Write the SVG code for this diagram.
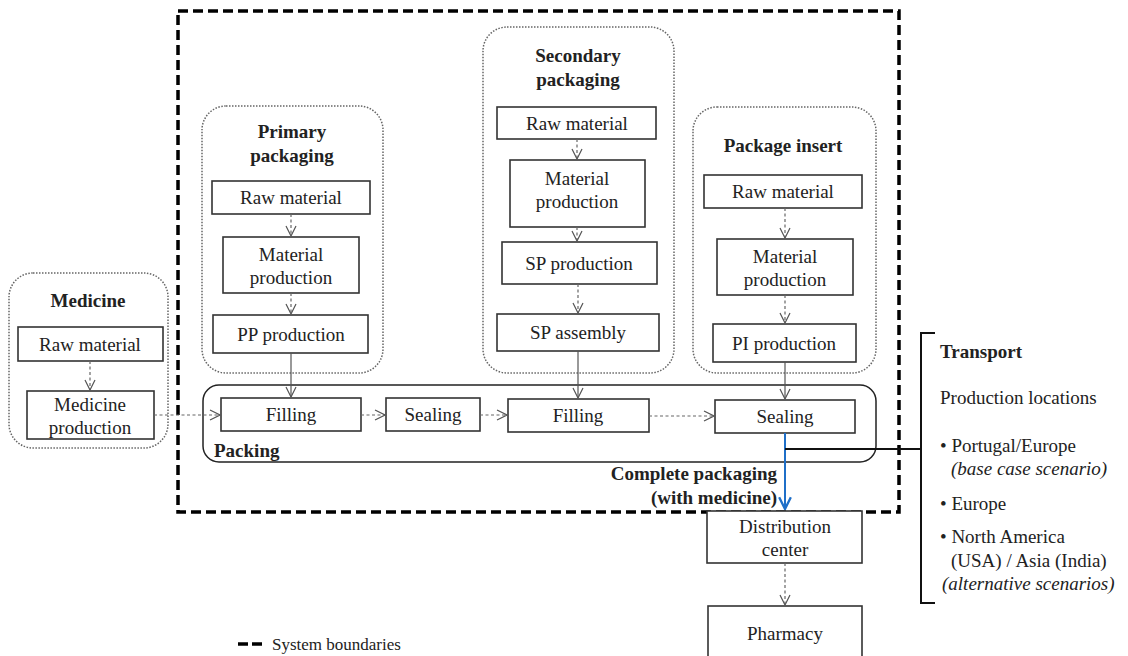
<svg xmlns="http://www.w3.org/2000/svg" width="1128" height="656" viewBox="0 0 1128 656" font-family="Liberation Serif, DejaVu Serif, serif">
<defs>
<style>
text{font-family:Liberation Serif, DejaVu Serif, serif;font-size:19px;fill:#222}
.b{font-weight:bold}
.i{font-style:italic}
.m{text-anchor:middle}
.box{fill:#fff;stroke:#333;stroke-width:1.6}
.grp{fill:none;stroke:#666;stroke-width:1.5;stroke-dasharray:1.5 1.5}
.sol{fill:none;stroke:#555;stroke-width:1.2}
.dsh{fill:none;stroke:#666;stroke-width:1.2;stroke-dasharray:3 2.5}
</style>
<marker id="ah" viewBox="0 0 12 12" refX="11" refY="6" markerWidth="12" markerHeight="12" markerUnits="userSpaceOnUse" orient="auto">
<path d="M1,1 L11,6 L1,11" fill="none" stroke="#555" stroke-width="1.2"/>
</marker>
<marker id="ahb" viewBox="0 0 12 12" refX="11" refY="6" markerWidth="14" markerHeight="14" markerUnits="userSpaceOnUse" orient="auto">
<path d="M1,1 L11,6 L1,11" fill="none" stroke="#1f6fc8" stroke-width="2"/>
</marker>
</defs>

<g id="system-boundary">
<rect x="178" y="11" width="721" height="501" fill="none" stroke="#000" stroke-width="3.5" stroke-dasharray="10 5"/>
</g>

<g id="medicine">
<rect class="grp" x="9" y="273" width="159" height="175" rx="24"/>
<text class="b m" x="88" y="307">Medicine</text>
</g>
<g id="med-raw"><rect class="box" x="18" y="327" width="145" height="34"/><text class="m" x="90" y="351">Raw material</text></g>
<g id="med-prod"><rect class="box" x="27" y="391" width="127" height="48"/><text class="m" x="90" y="411">Medicine</text><text class="m" x="90" y="434">production</text></g>

<g id="primary">
<rect class="grp" x="202" y="106" width="181" height="267" rx="24"/>
<text class="b m" x="292" y="138">Primary</text>
<text class="b m" x="292" y="162">packaging</text>
</g>
<g id="pp-raw"><rect class="box" x="212" y="181" width="158" height="33"/><text class="m" x="291" y="204">Raw material</text></g>
<g id="pp-mat"><rect class="box" x="223" y="237" width="136" height="56"/><text class="m" x="291" y="261">Material</text><text class="m" x="291" y="284">production</text></g>
<g id="pp-prod"><rect class="box" x="213" y="315" width="155" height="38"/><text class="m" x="291" y="341">PP production</text></g>

<g id="secondary">
<rect class="grp" x="483" y="27" width="191" height="346" rx="24"/>
<text class="b m" x="578" y="62">Secondary</text>
<text class="b m" x="578" y="86">packaging</text>
</g>
<g id="sp-raw"><rect class="box" x="497" y="107" width="159" height="32"/><text class="m" x="577" y="130">Raw material</text></g>
<g id="sp-mat"><rect class="box" x="510" y="160" width="135" height="67"/><text class="m" x="577" y="185">Material</text><text class="m" x="577" y="208">production</text></g>
<g id="sp-prod"><rect class="box" x="502" y="242" width="155" height="42"/><text class="m" x="579" y="270">SP production</text></g>
<g id="sp-asm"><rect class="box" x="497" y="314" width="162" height="37"/><text class="m" x="578" y="339">SP assembly</text></g>

<g id="insert">
<rect class="grp" x="693" y="107" width="183" height="266" rx="24"/>
<text class="b m" x="783" y="152">Package insert</text>
</g>
<g id="pi-raw"><rect class="box" x="704" y="175" width="158" height="33"/><text class="m" x="783" y="198">Raw material</text></g>
<g id="pi-mat"><rect class="box" x="717" y="239" width="136" height="56"/><text class="m" x="785" y="263">Material</text><text class="m" x="785" y="286">production</text></g>
<g id="pi-prod"><rect class="box" x="713" y="324" width="143" height="38"/><text class="m" x="784" y="350">PI production</text></g>

<g id="packing">
<rect x="203" y="385" width="673" height="77" rx="16" fill="none" stroke="#222" stroke-width="1.5"/>
<text class="b" x="214" y="457">Packing</text>
</g>
<g id="filling1"><rect class="box" x="221" y="398" width="140" height="33"/><text class="m" x="291" y="421">Filling</text></g>
<g id="sealing1"><rect class="box" x="386" y="398" width="94" height="33"/><text class="m" x="433" y="421">Sealing</text></g>
<g id="filling2"><rect class="box" x="508" y="399" width="141" height="33"/><text class="m" x="578" y="422">Filling</text></g>
<g id="sealing2"><rect class="box" x="715" y="400" width="140" height="33"/><text class="m" x="785" y="423">Sealing</text></g>

<g id="complete-label">
<text class="b" x="777" y="480" text-anchor="end">Complete packaging</text>
<text class="b" x="777" y="504" text-anchor="end">(with medicine)</text>
</g>

<g id="distribution"><rect class="box" x="707" y="511" width="155" height="52"/><text class="m" x="785" y="533">Distribution</text><text class="m" x="785" y="556">center</text></g>
<g id="pharmacy"><rect class="box" x="708" y="606" width="154" height="56"/><text class="m" x="785" y="640">Pharmacy</text></g>

<g id="transport">
<path d="M935,333 H921 V603 H935" fill="none" stroke="#111" stroke-width="2"/>
<text class="b" x="940" y="358">Transport</text>
<text x="940" y="404">Production locations</text>
<text x="940" y="452">• Portugal/Europe</text>
<text class="i" x="951" y="475">(base case scenario)</text>
<text x="940" y="510">• Europe</text>
<text x="940" y="543">• North America</text>
<text x="951" y="567">(USA) / Asia (India)</text>
<text class="i" x="942" y="590">(alternative scenarios)</text>
</g>

<g id="legend">
<line x1="238" y1="644" x2="266" y2="644" stroke="#000" stroke-width="3.5" stroke-dasharray="10 4"/>
<text x="272" y="650" style="font-size:17px">System boundaries</text>
</g>

<g id="connectors">
<line class="dsh" x1="291" y1="214" x2="291" y2="236" marker-end="url(#ah)"/>
<line class="dsh" x1="291" y1="293" x2="291" y2="314" marker-end="url(#ah)"/>
<line class="sol" x1="291" y1="353" x2="291" y2="397" marker-end="url(#ah)"/>
<line class="dsh" x1="577" y1="139" x2="577" y2="159" marker-end="url(#ah)"/>
<line class="dsh" x1="577" y1="227" x2="577" y2="241" marker-end="url(#ah)"/>
<line class="dsh" x1="578" y1="284" x2="578" y2="313" marker-end="url(#ah)"/>
<line class="sol" x1="578" y1="351" x2="578" y2="398" marker-end="url(#ah)"/>
<line class="dsh" x1="785" y1="208" x2="785" y2="238" marker-end="url(#ah)"/>
<line class="dsh" x1="785" y1="295" x2="785" y2="323" marker-end="url(#ah)"/>
<line class="sol" x1="785" y1="362" x2="785" y2="399" marker-end="url(#ah)"/>
<line class="dsh" x1="90" y1="361" x2="90" y2="390" marker-end="url(#ah)"/>
<line class="dsh" x1="154" y1="415" x2="220" y2="415" marker-end="url(#ah)"/>
<line class="dsh" x1="361" y1="415" x2="385" y2="415" marker-end="url(#ah)"/>
<line class="dsh" x1="480" y1="415" x2="507" y2="415" marker-end="url(#ah)"/>
<line class="dsh" x1="649" y1="416" x2="714" y2="416" marker-end="url(#ah)"/>
<line x1="785" y1="433" x2="785" y2="509" stroke="#1f6fc8" stroke-width="2" marker-end="url(#ahb)"/>
<line x1="785" y1="449" x2="921" y2="449" stroke="#111" stroke-width="2"/>
<line class="dsh" x1="785" y1="563" x2="785" y2="605" marker-end="url(#ah)"/>
</g>
</svg>
